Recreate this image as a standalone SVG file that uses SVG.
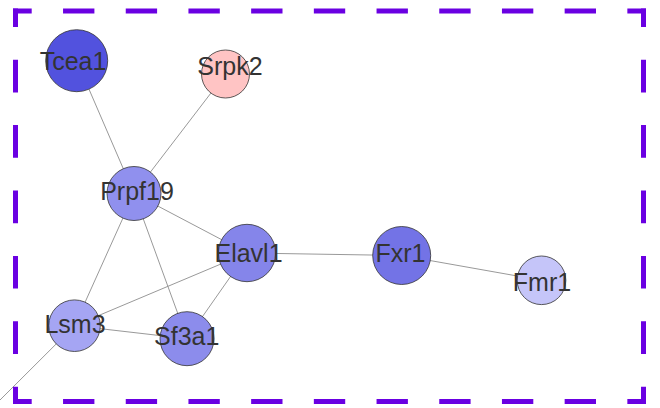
<svg xmlns="http://www.w3.org/2000/svg" width="660" height="408" viewBox="0 0 660 408">
<style>
.frame{stroke:#6a00e2;stroke-width:5;fill:none}
.h{stroke-dasharray:31.35 31.35;stroke-dashoffset:12.65}
.v{stroke-dasharray:32.7 32.7;stroke-dashoffset:14.2}
.edge{stroke:#999;stroke-width:1;fill:none}
.node circle{stroke:#333;stroke-width:0.8}
.node text{font-family:"Liberation Sans",Arial,sans-serif;font-size:25px;fill:#333;text-anchor:middle}
</style>
<rect width="660" height="408" fill="#fff"/>
<g id="connectors">
<line class="edge" x1="76.7" y1="60.7" x2="134" y2="193.5"/>
<line class="edge" x1="225.5" y1="74" x2="134" y2="193.5"/>
<line class="edge" x1="134" y1="193.5" x2="247" y2="253"/>
<line class="edge" x1="134" y1="193.5" x2="74.5" y2="325.7"/>
<line class="edge" x1="134" y1="193.5" x2="187" y2="338.7"/>
<line class="edge" x1="247" y1="253" x2="74.5" y2="325.7"/>
<line class="edge" x1="247" y1="253" x2="187" y2="338.7"/>
<line class="edge" x1="74.5" y1="325.7" x2="187" y2="338.7"/>
<line class="edge" x1="247" y1="253" x2="401.7" y2="255.5"/>
<line class="edge" x1="401.7" y1="255.5" x2="541.5" y2="280.3"/>
<line class="edge" x1="74.5" y1="325.7" x2="-6" y2="406"/>
</g>
<g id="Tcea1" class="node"><circle cx="76.7" cy="60.7" r="31" fill="#5252de"/><text x="73" y="69.5">Tcea1</text></g>
<g id="Srpk2" class="node"><circle cx="225.5" cy="74" r="24" fill="#ffc4c4"/><text x="230" y="75">Srpk2</text></g>
<g id="Prpf19" class="node"><circle cx="134" cy="193.5" r="27" fill="#9090ee"/><text x="137" y="199.5">Prpf19</text></g>
<g id="Elavl1" class="node"><circle cx="247" cy="253" r="28.7" fill="#8585ea"/><text x="248.5" y="262">Elavl1</text></g>
<g id="Fxr1" class="node"><circle cx="401.7" cy="255.5" r="29" fill="#7373e6"/><text x="400.5" y="261.5">Fxr1</text></g>
<g id="Fmr1" class="node"><circle cx="541.5" cy="280.3" r="24.3" fill="#c5c5f9"/><text x="542" y="291">Fmr1</text></g>
<g id="Lsm3" class="node"><circle cx="74.5" cy="325.7" r="25.8" fill="#a5a5f3"/><text x="75" y="333">Lsm3</text></g>
<g id="Sf3a1" class="node"><circle cx="187" cy="338.7" r="27" fill="#8c8cec"/><text x="186.7" y="344.5">Sf3a1</text></g>
<g id="frame">
<line class="frame h" x1="13" y1="11" x2="646" y2="11"/>
<line class="frame h" x1="13" y1="401.5" x2="646" y2="401.5"/>
<line class="frame v" x1="15.5" y1="8.5" x2="15.5" y2="404"/>
<line class="frame v" x1="643.5" y1="8.5" x2="643.5" y2="404"/>
</g>
</svg>
